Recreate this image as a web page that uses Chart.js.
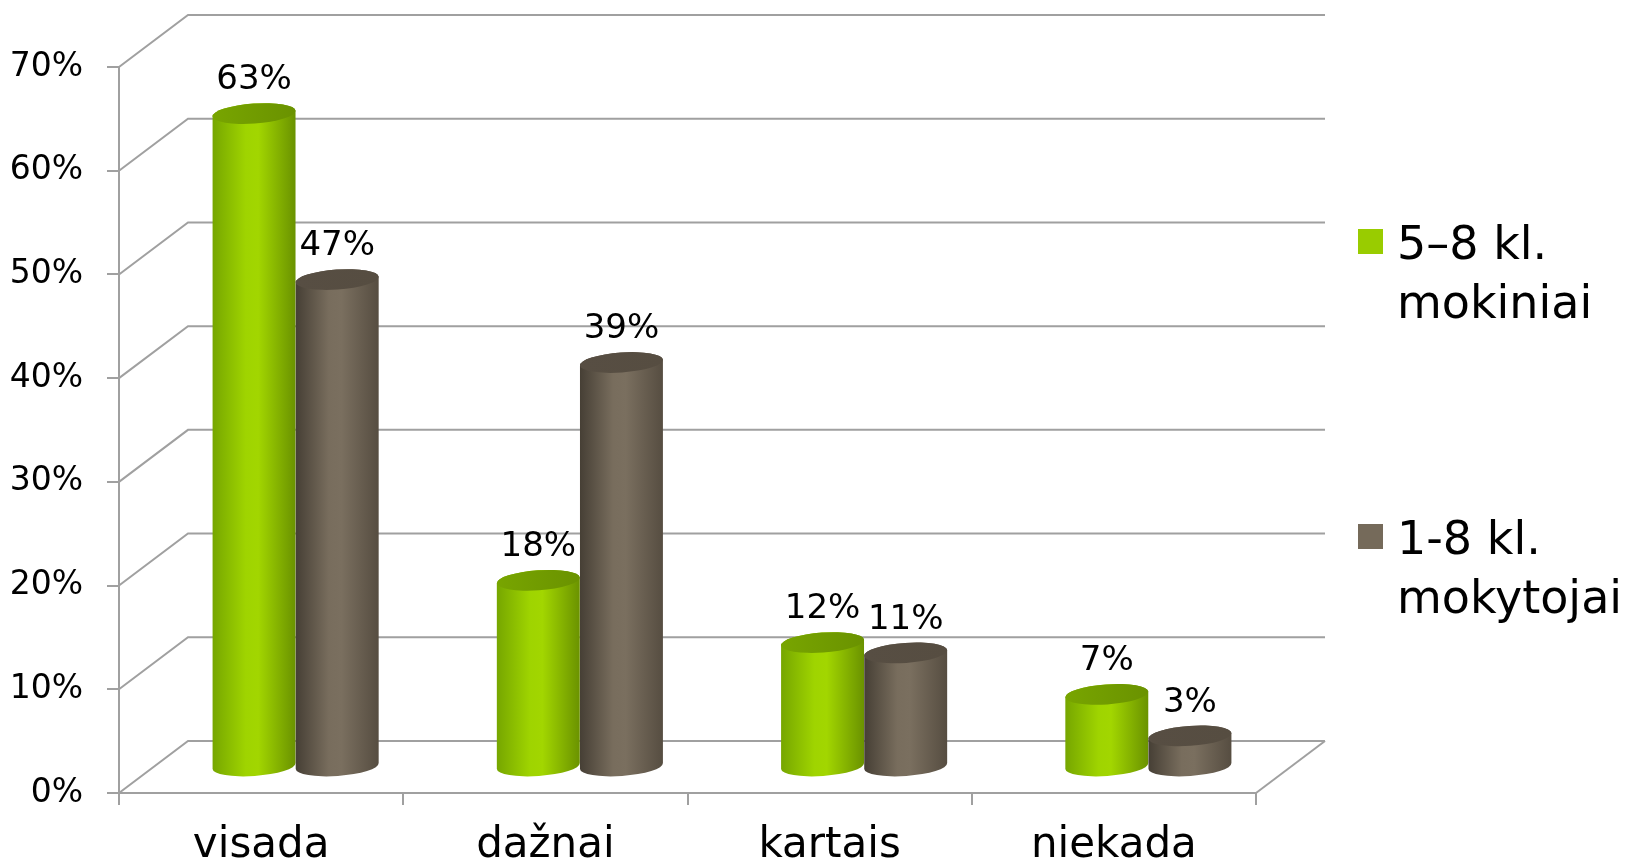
<!DOCTYPE html>
<html lang="lt">
<head>
<meta charset="utf-8">
<title>visada / dažnai / kartais / niekada</title>
<script src="https://cdn.jsdelivr.net/npm/chart.js@4.4.1/dist/chart.umd.min.js"></script>
<style>
  html, body { margin: 0; padding: 0; background: #fff; }
  #chart { display: block; }
</style>
</head>
<body>
<canvas id="chart" width="1625" height="866"></canvas>
<script>
// カテゴリ
const categories = ['visada', 'dažnai', 'kartais', 'niekada'];
// 系列名（凡例は2行）
const seriesNames = [['5–8 kl.', 'mokiniai'], ['1-8 kl.', 'mokytojai']];
// 系列値（%）
const students = [63, 18, 12, 7];
const teachers = [47, 39, 11, 3];
// Y軸目盛り
const yTicks = [0, 10, 20, 30, 40, 50, 60, 70];

const FONT = "'DejaVu Sans', sans-serif";
const GRID = '#a0a0a0';
const DEPTH_X = 69;   // 奥行き（横）
const DEPTH_Y = -52;  // 奥行き（縦）
const ELLIPSE_H = 10;
const TILT = -0.07;

// 円柱の陰影
const shades = [
    { swatch: '#99cc00', stops: ['#76a600', '#9fd400', '#a2d600', '#6a9200'], top: '#78a500' },
    { swatch: '#756a5a', stops: ['#463f35', '#786d5d', '#7a6f5f', '#564d41'], top: '#574e43' },
];

/**
 * 円柱1本を描く
 */
function drawCylinder(ctx, cx, top, bottom, w, shade) {
    const grad = ctx.createLinearGradient(cx - w, 0, cx + w, 0);
    grad.addColorStop(0, shade.stops[0]);
    grad.addColorStop(0.4, shade.stops[1]);
    grad.addColorStop(0.55, shade.stops[2]);
    grad.addColorStop(1, shade.stops[3]);

    ctx.beginPath();
    ctx.ellipse(cx, bottom, w, ELLIPSE_H, TILT, 0, Math.PI, false);
    ctx.ellipse(cx, top, w, ELLIPSE_H, TILT, Math.PI, 0, false);
    ctx.closePath();
    ctx.fillStyle = grad;
    ctx.fill();

    // 上面
    const topGrad = ctx.createLinearGradient(cx - w, 0, cx + w, 0);
    topGrad.addColorStop(0, shade.top);
    topGrad.addColorStop(1, shade.stops[3]);
    ctx.beginPath();
    ctx.ellipse(cx, top, w, ELLIPSE_H, TILT, 0, Math.PI * 2);
    ctx.fillStyle = topGrad;
    ctx.fill();
}

/**
 * 3D風の壁・円柱・ラベル
 */
const cylinderPlugin = {
    id: 'cylinder3d',
    beforeDatasetsDraw(chart) {
        const ctx = chart.ctx;
        const { left, right } = chart.chartArea;
        const yScale = chart.scales.y;

        ctx.save();
        ctx.strokeStyle = GRID;
        ctx.lineWidth = 2;
        yTicks.forEach(v => {
            const py = yScale.getPixelForValue(v);
            ctx.beginPath();
            ctx.moveTo(left, py);
            ctx.lineTo(left + DEPTH_X, py + DEPTH_Y);
            ctx.lineTo(right + DEPTH_X, py + DEPTH_Y);
            ctx.stroke();
        });
        const base = yScale.getPixelForValue(0);
        ctx.beginPath();
        ctx.moveTo(right, base);
        ctx.lineTo(right + DEPTH_X, base + DEPTH_Y);
        ctx.stroke();

        // 円柱
        chart.data.datasets.forEach((ds, i) => {
            const meta = chart.getDatasetMeta(i);
            meta.data.forEach(el => {
                const cx = el.x + DEPTH_X / 2;
                const top = el.y + DEPTH_Y / 2;
                const bottom = el.base + DEPTH_Y / 2;
                drawCylinder(ctx, cx, top, bottom, el.width / 2, shades[i]);
            });
        });

        // 値ラベル
        ctx.fillStyle = '#000';
        ctx.font = '34px ' + FONT;
        ctx.textAlign = 'center';
        ctx.textBaseline = 'middle';
        chart.data.datasets.forEach((ds, i) => {
            const meta = chart.getDatasetMeta(i);
            meta.data.forEach((el, j) => {
                const cx = el.x + DEPTH_X / 2;
                const top = el.y + DEPTH_Y / 2;
                ctx.fillText(ds.data[j] + '%', cx, top - ELLIPSE_H - 23);
            });
        });
        ctx.restore();
        return false;
    },
    afterDraw(chart) {
        // 凡例
        const ctx = chart.ctx;
        const rows = [229, 524];
        ctx.save();
        ctx.font = '46px ' + FONT;
        ctx.textAlign = 'left';
        ctx.textBaseline = 'alphabetic';
        seriesNames.forEach((name, i) => {
            ctx.fillStyle = shades[i].swatch;
            ctx.fillRect(1358, rows[i], 25, 25);
            ctx.fillStyle = '#000';
            ctx.fillText(name[0], 1397, rows[i] + 30);
            ctx.fillText(name[1], 1397, rows[i] + 89);
        });
        ctx.restore();
    },
};

const chart = new Chart(document.getElementById('chart'), {
    type: 'bar',
    data: {
        labels: categories,
        datasets: [
            { label: seriesNames[0].join(' '), data: students, backgroundColor: shades[0].swatch },
            { label: seriesNames[1].join(' '), data: teachers, backgroundColor: shades[1].swatch },
        ],
    },
    options: {
        responsive: false,
        animation: false,
        devicePixelRatio: 1,
        layout: { padding: { top: 67, right: 369, left: 0, bottom: 0 } },
        datasets: { bar: { categoryPercentage: 0.585, barPercentage: 1 } },
        plugins: {
            legend: { display: false },
            tooltip: { enabled: false },
        },
        scales: {
            x: {
                afterFit: s => { s.height = 73; },
                border: { color: GRID, width: 2 },
                grid: { offset: true, drawOnChartArea: false, color: GRID, lineWidth: 2, tickLength: 12 },
                ticks: { color: '#000', font: { family: FONT, size: 42 }, padding: 16 },
            },
            y: {
                min: 0,
                max: 70,
                afterFit: s => { s.width = 119; },
                border: { color: GRID, width: 2 },
                grid: { drawOnChartArea: false, color: GRID, lineWidth: 2, tickLength: 12 },
                ticks: {
                    stepSize: 10,
                    color: '#000',
                    font: { family: FONT, size: 33 },
                    padding: 24,
                    callback: v => v + '%',
                },
            },
        },
    },
    plugins: [cylinderPlugin],
});
</script>
</body>
</html>
